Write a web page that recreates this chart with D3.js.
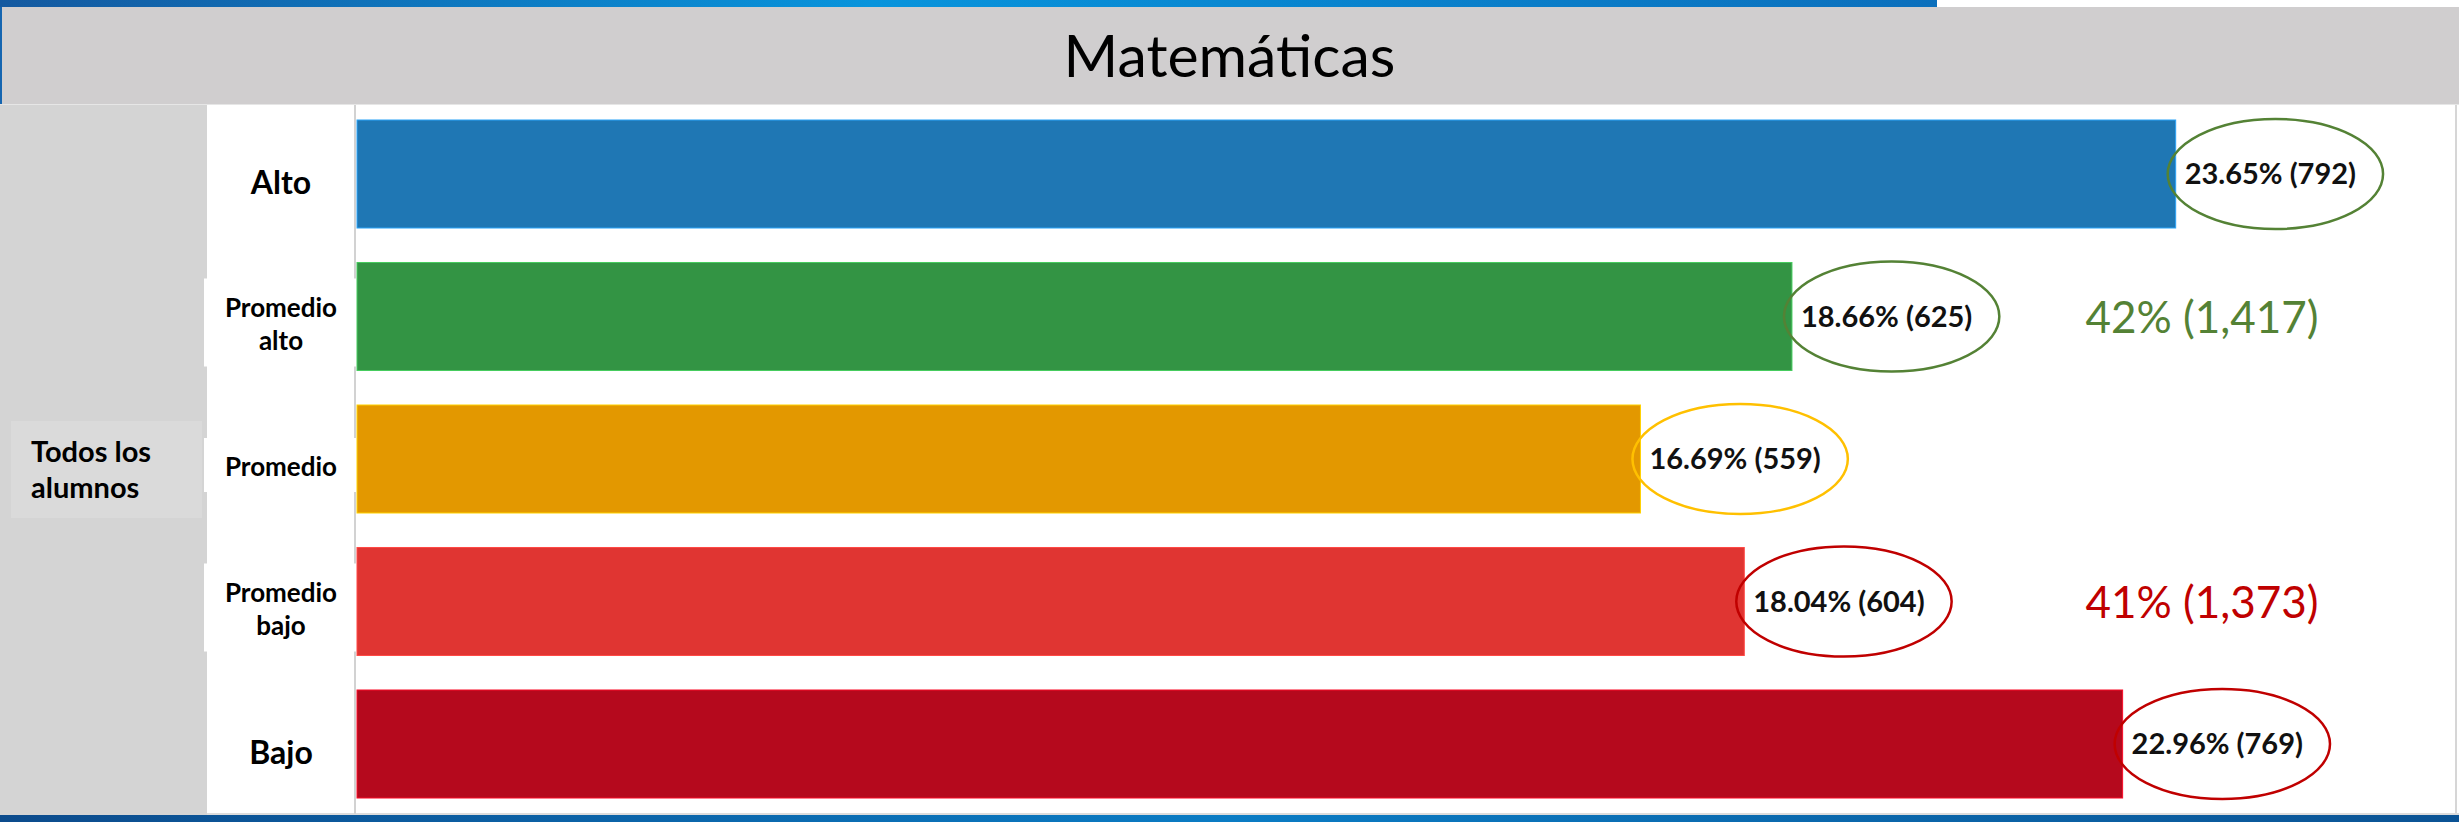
<!DOCTYPE html>
<html>
<head>
<meta charset="utf-8">
<script src="https://cdn.jsdelivr.net/npm/d3@7"></script>
<style>
  html, body { margin: 0; padding: 0; background: #ffffff; }
  svg { display: block; }
</style>
</head>
<body>
<svg id="chart" width="2459" height="822"></svg>
<script>
// data
const title = 'Matemáticas';
const groupLabel = ['Todos los', 'alumnos'];
const categories = ['Alto', 'Promedio alto', 'Promedio', 'Promedio bajo', 'Bajo'];
const categoryLines = [['Alto'], ['Promedio', 'alto'], ['Promedio'], ['Promedio', 'bajo'], ['Bajo']];
const percents = [23.65, 18.66, 16.69, 18.04, 22.96];
const counts = [792, 625, 559, 604, 769];
const summaryTexts = ['42% (1,417)', '41% (1,373)'];
const summaryRows = ['Promedio alto', 'Promedio bajo'];

const barColors = ['#1f77b4', '#339444', '#e39800', '#e03532', '#b5091d'];
const ringColors = ['#548235', '#548235', '#ffc000', '#c00000', '#c00000'];
const summaryColors = ['#548235', '#c00000'];

const W = 2459, H = 822;
const svg = d3.select('#chart');
const defs = svg.append('defs');

function gradient(id, stops) {
  const g = defs.append('linearGradient').attr('id', id)
    .attr('x1', '0%').attr('x2', '100%').attr('y1', '0%').attr('y2', '0%');
  stops.forEach(s => g.append('stop').attr('offset', s[0]).attr('stop-color', s[1]));
}
gradient('topBar', [['0%', '#1459a0'], ['45%', '#0894dc'], ['100%', '#0b6fbc']]);
gradient('bottomBar', [['0%', '#0c4b8c'], ['50%', '#0a7cc4'], ['100%', '#0b5394']]);

// frame
svg.append('rect').attr('x', 0).attr('y', 0).attr('width', 1937).attr('height', 7).attr('fill', 'url(#topBar)');
svg.append('rect').attr('x', 0).attr('y', 7).attr('width', W).attr('height', 97).attr('fill', '#d0cecf');
svg.append('rect').attr('x', 0).attr('y', 7).attr('width', 2).attr('height', 97).attr('fill', '#1565b0');
svg.append('line').attr('x1', 0).attr('x2', W).attr('y1', 104.5).attr('y2', 104.5)
  .attr('stroke', '#e6e6e6').attr('stroke-width', 1);
svg.append('text')
  .attr('x', W / 2).attr('y', 77)
  .attr('text-anchor', 'middle')
  .attr('font-family', 'Lato, "Open Sans", sans-serif')
  .attr('font-size', 59)
  .attr('fill', '#000')
  .text(title);

// left columns
svg.append('rect').attr('x', 0).attr('y', 105).attr('width', 207).attr('height', 711).attr('fill', '#d4d4d4');
svg.append('rect').attr('x', 11).attr('y', 421).attr('width', 191).attr('height', 97).attr('fill', '#dadada');
svg.append('text')
  .attr('font-family', 'Lato, "Open Sans", sans-serif')
  .attr('font-weight', 700)
  .attr('font-size', 29)
  .attr('fill', '#000')
  .selectAll('tspan')
  .data(groupLabel)
  .join('tspan')
  .attr('x', 31)
  .attr('y', (d, i) => 462 + i * 36)
  .text(d => d);

// chart area borders
svg.append('line').attr('x1', 2456).attr('x2', 2456).attr('y1', 105).attr('y2', 814)
  .attr('stroke', '#d6d6d6').attr('stroke-width', 2);
svg.append('line').attr('x1', 207).attr('x2', W).attr('y1', 814).attr('y2', 814)
  .attr('stroke', '#dcdcdc').attr('stroke-width', 2);
svg.append('rect').attr('x', 0).attr('y', 815).attr('width', W).attr('height', 7).attr('fill', 'url(#bottomBar)');

// scales
const x = d3.scaleLinear().domain([0, 25]).range([357, 357 + 25 * 76.9]);
const y = d3.scaleBand().domain(categories).range([102.75, 815.25])
  .paddingInner(0.242).paddingOuter(0.121);

// axis line
svg.append('line').attr('x1', 355).attr('x2', 355).attr('y1', 105).attr('y2', 814)
  .attr('stroke', '#d2d2d2').attr('stroke-width', 2);

const rows = categories.map((c, i) => ({
  cat: c, lines: categoryLines[i], pct: percents[i], n: counts[i],
  color: barColors[i], ring: ringColors[i]
}));

// category labels
const labelG = svg.append('g');
rows.forEach(r => {
  const big = r.lines.length === 1 && r.cat !== 'Promedio';
  const fs = big ? 32 : 26;
  const lh = 33;
  const cy = y(r.cat) + y.bandwidth() / 2 + 8;
  if (r.cat.indexOf('Promedio') === 0) {
    const h = r.lines.length === 2 ? 88 : 54;
    labelG.append('rect').attr('x', 204).attr('y', cy - h / 2 - 2)
      .attr('width', 154).attr('height', h).attr('fill', '#fff');
  }
  const first = cy + fs * 0.36 - (r.lines.length - 1) * lh / 2;
  labelG.append('text')
    .attr('text-anchor', 'middle')
    .attr('font-family', 'Lato, "Open Sans", sans-serif')
    .attr('font-weight', 700)
    .attr('font-size', fs)
    .attr('fill', '#000')
    .selectAll('tspan')
    .data(r.lines)
    .join('tspan')
    .attr('x', 281)
    .attr('y', (d, i) => first + i * lh)
    .text(d => d);
});

// bars
svg.append('g').selectAll('rect')
  .data(rows)
  .join('rect')
  .attr('x', x(0))
  .attr('y', d => y(d.cat))
  .attr('width', d => x(d.pct) - x(0))
  .attr('height', y.bandwidth())
  .attr('fill', d => d.color)
  .attr('stroke', d => d3.color(d.color).brighter(0.9))
  .attr('stroke-width', 1);

// value labels with rings
const fmt = d3.format('.2f');
const valG = svg.append('g');
rows.forEach(r => {
  const cy = y(r.cat) + y.bandwidth() / 2;
  const t = valG.append('text')
    .attr('x', x(r.pct) + 9)
    .attr('y', cy + 10)
    .attr('font-family', 'Lato, "Open Sans", sans-serif')
    .attr('font-weight', 700)
    .attr('font-size', 29)
    .attr('fill', '#111')
    .text(fmt(r.pct) + '% (' + r.n + ')');
  const w = t.node().getComputedTextLength();
  valG.append('ellipse')
    .attr('cx', x(r.pct) + 9 + w / 2 + 5)
    .attr('cy', cy)
    .attr('rx', w / 2 + 22)
    .attr('ry', 55)
    .attr('fill', 'none')
    .attr('stroke', r.ring)
    .attr('stroke-width', 2.5);
});

// group summaries
svg.append('g').selectAll('text')
  .data(summaryTexts)
  .join('text')
  .attr('x', 2202)
  .attr('y', (d, i) => y(summaryRows[i]) + y.bandwidth() / 2 + 16)
  .attr('text-anchor', 'middle')
  .attr('font-family', 'Lato, "Open Sans", sans-serif')
  .attr('font-size', 44)
  .attr('fill', (d, i) => summaryColors[i])
  .text(d => d);
</script>
</body>
</html>
